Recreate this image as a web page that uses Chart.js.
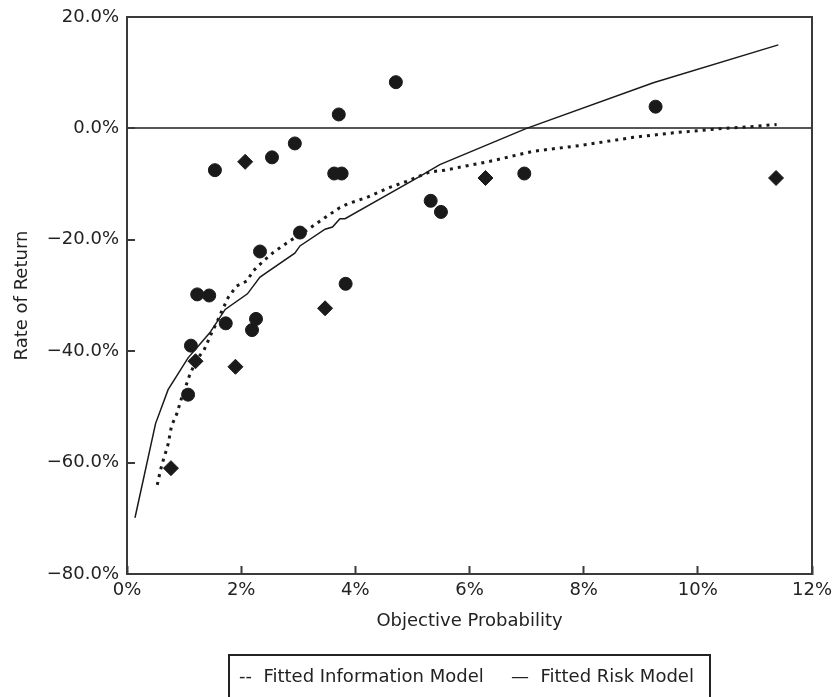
<!DOCTYPE html>
<html>
<head>
<meta charset="utf-8">
<script src="https://cdn.jsdelivr.net/npm/chart.js@4.4.0/dist/chart.umd.min.js"></script>
<style>
  html, body { margin: 0; padding: 0; background: #fff; }
  #wrap { position: relative; width: 833px; height: 697px; overflow: hidden; }
  #legend {
    position: absolute; left: 228px; top: 654px; width: 483px; height: 60px;
    border: 2px solid #222; border-bottom: none; box-sizing: border-box;
    font: 18px "DejaVu Sans"; color: #222; line-height: 40px;
  }
  #legend span { position: absolute; top: 0; white-space: pre; }
</style>
</head>
<body>
<div id="wrap">
  <canvas id="_canvasc" width="833" height="697"></canvas>
  <div id="legend">
    <span style="left:9px">--  Fitted Information Model</span>
    <span style="left:281px">—  Fitted Risk Model</span>
  </div>
</div>
<script>
// observed points (objective probability %, rate of return %)
var obsProb = [0.77, 1.07, 1.12, 1.20, 1.23, 1.44, 1.54, 1.73, 1.90, 2.07, 2.19, 2.26, 2.33, 2.54,
               2.94, 3.03, 3.47, 3.63, 3.71, 3.76, 3.83, 4.71, 5.32, 5.50, 6.28, 6.96, 9.26, 11.37];
var obsRet  = [-61.0, -47.8, -39.0, -41.8, -29.8, -30.0, -7.5, -35.0, -42.8, -6.0, -36.2, -34.2, -22.1, -5.2,
               -2.7, -18.7, -32.3, -8.1, 2.5, -8.1, -27.9, 8.3, -13.0, -15.0, -8.9, -8.1, 3.9, -8.9];

// fitted information model
var infoProb = [0.53, 0.59, 0.64, 0.68, 0.72, 0.78, 0.87, 0.96, 1.05, 1.10, 1.22, 1.35, 1.47, 1.57, 1.66,
                1.77, 1.92, 2.10, 2.21, 2.39, 2.56, 2.85, 3.15, 3.47, 3.73, 3.88, 4.20, 4.55, 4.90,
                5.31, 5.57, 6.36, 7.12, 7.99, 8.87, 9.57, 10.33, 10.91, 11.38];
var infoRet  = [-64.0, -61.2, -59.4, -58.1, -56.7, -53.4, -51.3, -48.3, -45.7, -44.2, -41.5, -39.8, -37.0, -34.9, -32.8,
                -30.4, -28.3, -27.4, -25.6, -23.8, -22.3, -20.2, -18.3, -16.0, -14.2, -13.5, -12.4, -10.8, -9.5,
                -7.8, -7.5, -5.9, -4.1, -3.0, -1.6, -0.8, -0.1, 0.3, 0.7];

// fitted risk model
var riskProb = [0.14, 0.50, 0.72, 1.07, 1.45, 1.72, 2.11, 2.33, 2.94, 3.03, 3.47, 3.60, 3.73, 3.82, 5.13, 5.48, 7.00, 9.22, 11.41];
var riskRet  = [-69.9, -53.0, -46.9, -41.2, -36.7, -32.5, -29.7, -26.7, -22.4, -21.1, -18.1, -17.7, -16.2, -16.2, -8.6, -6.5, 0.0, 8.2, 15.0];

var xTicks = [0, 2, 4, 6, 8, 10, 12];
var yTicks = [20, 0, -20, -40, -60, -80];

function pts(xs, ys) { return xs.map(function (x, i) { return { x: x, y: ys[i] }; }); }

// diamonds vs round blobs, as in the print
var diamondAt = [0.77, 1.20, 1.90, 2.07, 3.47, 6.28, 11.37];
var obsStyle = obsProb.map(function (x) { return diamondAt.indexOf(x) >= 0 ? 'rectRot' : 'circle'; });
var obsRadius = obsProb.map(function (x) { return diamondAt.indexOf(x) >= 0 ? 7.5 : 6.5; });

var ink = '#1a1a1a';
var axisInk = '#3a3a3a';

Chart.defaults.font.family = 'DejaVu Sans';
Chart.defaults.font.size = 18;
Chart.defaults.color = '#222';

var frame = {
  id: 'frame',
  beforeDatasetsDraw: function (chart) {
    var a = chart.chartArea, ctx = chart.ctx;
    ctx.save();
    ctx.strokeStyle = axisInk;
    ctx.lineWidth = 2;
    ctx.beginPath();
    ctx.moveTo(a.left, a.top);
    ctx.lineTo(a.right, a.top);
    ctx.lineTo(a.right, a.bottom);
    ctx.stroke();
    ctx.restore();
  }
};

var config = {
  type: 'scatter',
  data: {
    datasets: [{
      label: 'Observed',
      data: pts(obsProb, obsRet),
      backgroundColor: ink,
      borderColor: ink,
      pointStyle: obsStyle,
      pointRadius: obsRadius,
      order: 0
    }, {
      label: 'Fitted Information Model',
      data: pts(infoProb, infoRet),
      showLine: true,
      borderColor: ink,
      borderWidth: 3,
      borderDash: [3, 5],
      pointRadius: 0,
      tension: 0,
      order: 1
    }, {
      label: 'Fitted Risk Model',
      data: pts(riskProb, riskRet),
      showLine: true,
      borderColor: ink,
      borderWidth: 1.5,
      pointRadius: 0,
      tension: 0,
      order: 2
    }]
  },
  options: {
    responsive: false,
    animation: false,
    layout: { padding: { top: 17, right: 21, left: 0, bottom: 0 } },
    plugins: { legend: { display: false }, tooltip: { enabled: false } },
    scales: {
      x: {
        type: 'linear', min: 0, max: 12,
        afterBuildTicks: function (s) { s.ticks = xTicks.map(function (v) { return { value: v }; }); },
        afterFit: function (s) { s.height = 123; s.paddingLeft = 0; s.paddingRight = 0; },
        border: { color: axisInk, width: 2 },
        grid: { drawOnChartArea: false, drawTicks: true, tickLength: -8, tickColor: axisInk, tickWidth: 2 },
        ticks: { padding: 14, maxRotation: 0, callback: function (v) { return v + '%'; } },
        title: { display: true, text: 'Objective Probability', padding: { top: 0, bottom: 65 } }
      },
      y: {
        type: 'linear', min: -80, max: 20,
        afterBuildTicks: function (s) { s.ticks = yTicks.map(function (v) { return { value: v }; }); },
        afterFit: function (s) { s.width = 127; s.paddingTop = 0; s.paddingBottom = 0; },
        border: { color: axisInk, width: 2 },
        grid: {
          drawTicks: true, tickLength: -8, tickColor: axisInk, tickWidth: 2, lineWidth: 2,
          color: function (c) { return c.tick && c.tick.value === 0 ? '#555' : 'rgba(0,0,0,0)'; }
        },
        ticks: {
          padding: 16,
          callback: function (v) { return (v < 0 ? '\u2212' : '') + Math.abs(v).toFixed(1) + '%'; }
        },
        title: { display: true, text: 'Rate of Return', padding: { top: 12, bottom: 0 } }
      }
    }
  },
  plugins: [frame]
};

window.myScatter = new Chart(document.getElementById('_canvasc'), config);
</script>
</body>
</html>
